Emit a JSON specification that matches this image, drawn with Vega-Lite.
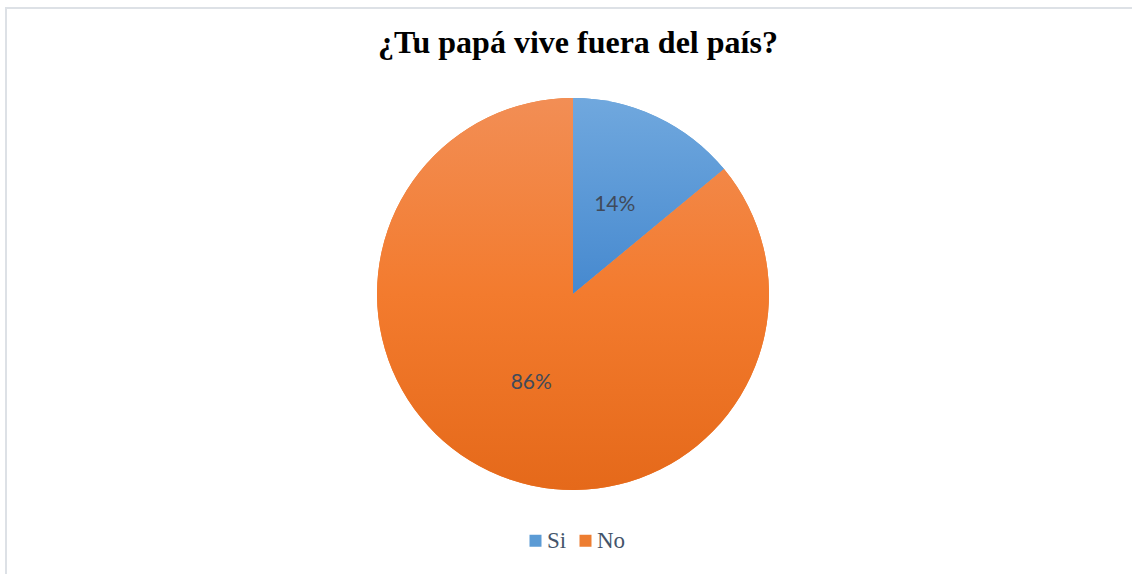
{
  "$schema": "https://vega.github.io/schema/vega-lite/v6.json",
  "autosize": {"type": "none"},
  "padding": {"left": 6, "top": 8, "right": 0, "bottom": 0},
  "width": 1134,
  "height": 572,
  "background": "white",
  "view": {"stroke": "#DDE1E6", "strokeWidth": 2, "fill": "white"},
  "title": {
    "text": "¿Tu papá vive fuera del país?",
    "font": "Liberation Serif",
    "fontSize": 32,
    "fontWeight": "bold",
    "color": "#000000",
    "anchor": "middle",
    "offset": -52,
    "dx": 5
  },
  "data": {
    "values": [
      {"respuesta": "Si", "porcentaje": 14, "orden": 1, "etiqueta": "14%"},
      {"respuesta": "No", "porcentaje": 86, "orden": 2, "etiqueta": "86%"}
    ]
  },
  "encoding": {
    "theta": {"field": "porcentaje", "type": "quantitative", "stack": true},
    "order": {"field": "orden", "type": "quantitative"}
  },
  "layer": [
    {
      "mark": {"type": "arc", "outerRadius": 196},
      "encoding": {
        "color": {
          "field": "respuesta",
          "type": "nominal",
          "sort": ["Si", "No"],
          "scale": {"domain": ["Si", "No"], "range": ["#5B9BD5", "#ED7D31"]},
          "legend": {
            "title": null,
            "orient": "none",
            "direction": "horizontal",
            "legendX": 518,
            "legendY": 521,
            "symbolType": "square",
            "symbolSize": 144,
            "symbolStrokeWidth": 0,
            "labelFont": "Liberation Serif",
            "labelFontSize": 23,
            "labelColor": "#44546A",
            "columnPadding": 7,
            "labelOffset": 0
          }
        }
      }
    },
    {
      "mark": {"type": "arc", "outerRadius": 196},
      "encoding": {
        "fill": {
          "condition": {
            "test": "datum.respuesta === 'Si'",
            "value": {"gradient": "linear", "x1": 0, "y1": 0, "x2": 0, "y2": 1, "stops": [{"offset": 0, "color": "#70A8DE"}, {"offset": 1, "color": "#4689CF"}]}
          },
          "value": {"gradient": "linear", "x1": 0, "y1": 0, "x2": 0, "y2": 1, "stops": [{"offset": 0, "color": "#F28E55"}, {"offset": 0.5, "color": "#F37B2E"}, {"offset": 1, "color": "#E5691A"}]}
        }
      }
    },
    {
      "mark": {"type": "text", "radius": 98, "font": "Lato", "fontSize": 21, "color": "#404A5A"},
      "encoding": {
        "text": {"field": "etiqueta", "type": "nominal"}
      }
    }
  ]
}
